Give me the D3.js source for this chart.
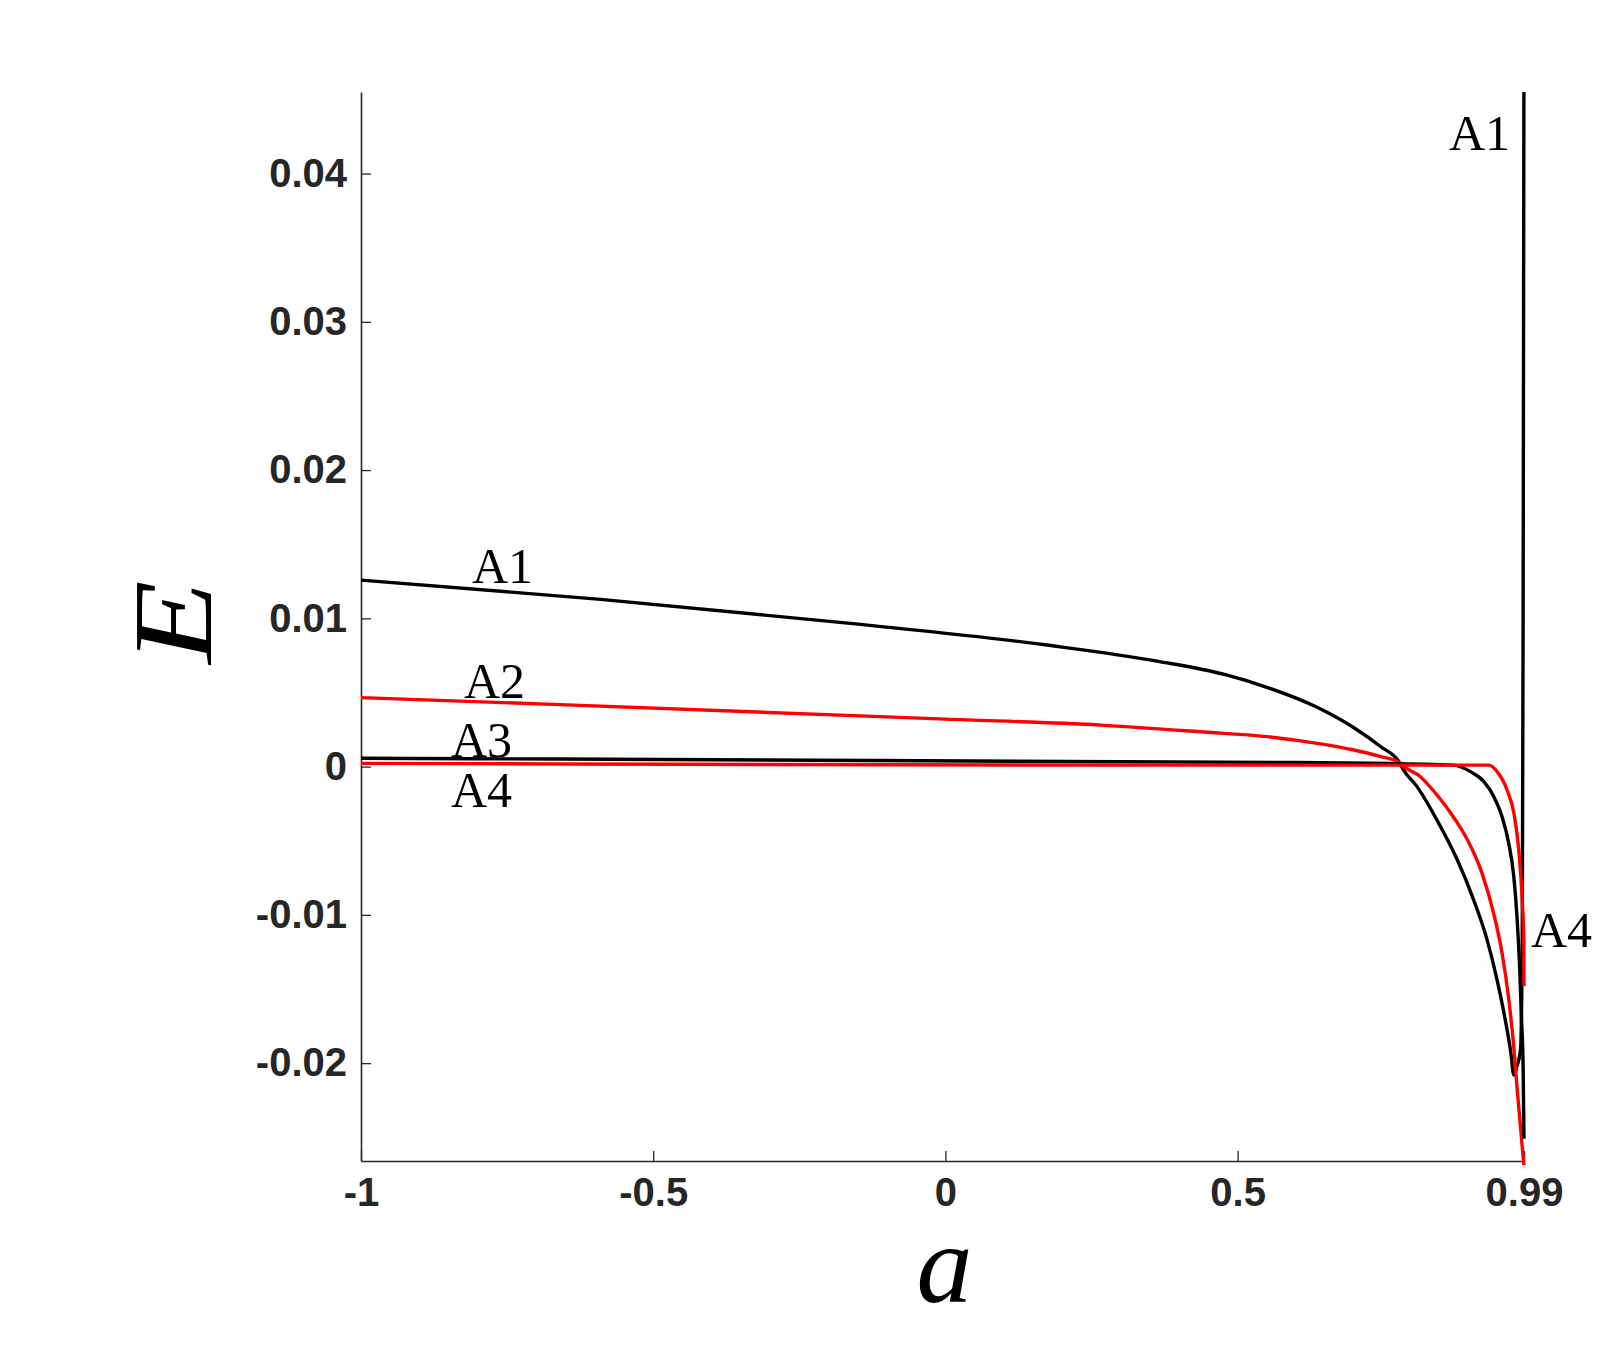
<!DOCTYPE html>
<html>
<head>
<meta charset="utf-8">
<script src="https://cdn.jsdelivr.net/npm/d3@7"></script>
<style>
  html, body { margin: 0; padding: 0; background: #fff; }
  .tick text { font-family: "Liberation Sans", Arial, Helvetica, sans-serif; font-weight: bold; font-size: 40px; fill: #262626; }
  .curve-label { font-family: "Liberation Serif", "Times New Roman", serif; font-size: 50px; fill: #000; }
  .axis-title { font-family: "Liberation Serif", "Times New Roman", serif; font-style: italic; fill: #000; }
</style>
</head>
<body>
<div id="chart"></div>
<script>
// series: a values and E values
const a1 = [-1, -0.59, -0.1626, 0.1735, 0.3645, 0.479, 0.55, 0.636, 0.699, 0.745, 0.776, 0.784, 0.807, 0.841, 0.876, 0.904, 0.927, 0.944, 0.958, 0.9675, 0.9725, 0.978, 0.984, 0.987, 0.9885, 0.99];
const e1 = [0.01258, 0.01128, 0.00966, 0.0082, 0.0071, 0.0062, 0.00535, 0.004, 0.00262, 0.00134, 0.00033, -0.00023, -0.00135, -0.0036, -0.0063, -0.009, -0.0117, -0.0144, -0.0171, -0.0193, -0.0208, -0.0202, -0.0191, -0.012, 0.01, 0.05];

const a2 = [-1, -0.659, 0, 0.265, 0.436, 0.55, 0.636, 0.699, 0.745, 0.776, 0.784, 0.8128, 0.8243, 0.845, 0.864, 0.8927, 0.9183, 0.938, 0.9526, 0.964, 0.9725, 0.978, 0.984, 0.99];
const e2 = [0.00465, 0.00418, 0.0032, 0.0028, 0.00235, 0.00202, 0.00157, 0.00112, 0.00067, 0.00029, 0.0, -0.00068, -0.00115, -0.0021, -0.0031, -0.0049, -0.0072, -0.0099, -0.0126, -0.0157, -0.0189, -0.0216, -0.0243, -0.027];

const a3 = [-1, -0.659, 0.2995, 0.6, 0.87, 0.8984, 0.921, 0.938, 0.9526, 0.964, 0.9725, 0.978, 0.9825, 0.9856, 0.9885, 0.99];
const e3 = [0.00056, 0.00051, 0.00033, 0.00028, 0.0001, -0.00034, -0.001, -0.002, -0.0034, -0.0052, -0.0074, -0.0101, -0.0135, -0.0169, -0.0202, -0.0251];

const a4 = [-1, -0.659, 0.2995, 0.93, 0.944, 0.9613, 0.9725, 0.981, 0.987, 0.9897, 0.99];
const e4 = [0.00022, 0.00018, 0.0001, 0.0001, -0.00034, -0.0016, -0.0031, -0.0056, -0.009, -0.0117, -0.0148];

const xTicks = [-1, -0.5, 0, 0.5, 0.99];
const yTicks = [-0.02, -0.01, 0, 0.01, 0.02, 0.03, 0.04];

const seriesNames = ["A1", "A2", "A3", "A4"];
const seriesColors = ["#000000", "#ff0000", "#000000", "#ff0000"];

const width = 1607, height = 1346;
const margin = { left: 361, right: 83, top: 92, bottom: 185 };

const svg = d3.select("#chart").append("svg")
  .attr("width", width)
  .attr("height", height);

const x = d3.scaleLinear().domain([-1, 0.99]).range([margin.left, width - margin.right]);
const y = d3.scaleLinear().domain([-0.0266, 0.0455]).range([height - margin.bottom, margin.top]);

svg.append("defs").append("clipPath").attr("id", "plot-clip")
  .append("rect")
  .attr("x", margin.left - 2)
  .attr("y", margin.top)
  .attr("width", width - margin.right - margin.left + 6)
  .attr("height", height - margin.bottom - margin.top + 4);

// axes (MATLAB style: inward ticks, no box)
const xAxis = svg.append("g")
  .attr("transform", `translate(0, ${height - margin.bottom})`)
  .call(d3.axisBottom(x).tickValues(xTicks).tickFormat(d => String(d))
    .tickSizeInner(-10).tickSizeOuter(0).tickPadding(17));

const yAxis = svg.append("g")
  .attr("transform", `translate(${margin.left}, 0)`)
  .call(d3.axisLeft(y).tickValues(yTicks).tickFormat(d => String(d))
    .tickSizeInner(-10).tickSizeOuter(0).tickPadding(14));

[xAxis, yAxis].forEach(ax => {
  ax.select(".domain").attr("stroke", "#262626").attr("stroke-width", 1.6);
  ax.selectAll(".tick line").attr("stroke", "#262626").attr("stroke-width", 1.3);
  ax.attr("font-size", null).attr("font-family", null);
});

// curves
const line = d3.line()
  .x(d => x(d[0]))
  .y(d => y(d[1]))
  .curve(d3.curveMonotoneX);

const series = [
  d3.zip(a1, e1),
  d3.zip(a2, e2),
  d3.zip(a3, e3),
  d3.zip(a4, e4)
];

svg.append("g")
  .attr("clip-path", "url(#plot-clip)")
  .selectAll("path")
  .data(series)
  .join("path")
  .attr("fill", "none")
  .attr("stroke", (d, i) => seriesColors[i])
  .attr("stroke-width", 3.4)
  .attr("stroke-linejoin", "round")
  .attr("d", line);

// curve labels
const labels = [
  { text: seriesNames[0], x: 1449, y: 150 },
  { text: seriesNames[0], x: 472, y: 583 },
  { text: seriesNames[1], x: 464, y: 698 },
  { text: seriesNames[2], x: 451, y: 757 },
  { text: seriesNames[3], x: 451, y: 807 },
  { text: seriesNames[3], x: 1531, y: 947 }
];

svg.append("g")
  .selectAll("text")
  .data(labels)
  .join("text")
  .attr("class", "curve-label")
  .attr("x", d => d.x)
  .attr("y", d => d.y)
  .text(d => d.text);

// axis titles
svg.append("text")
  .attr("class", "axis-title")
  .attr("x", (margin.left + width - margin.right) / 2 + 2)
  .attr("y", 1302)
  .attr("text-anchor", "middle")
  .style("font-size", "112px")
  .text("a");

svg.append("text")
  .attr("class", "axis-title")
  .attr("transform", `translate(211, 622) rotate(-90) scale(1.22, 1)`)
  .attr("text-anchor", "middle")
  .style("font-size", "112px")
  .text("E");
</script>
</body>
</html>
